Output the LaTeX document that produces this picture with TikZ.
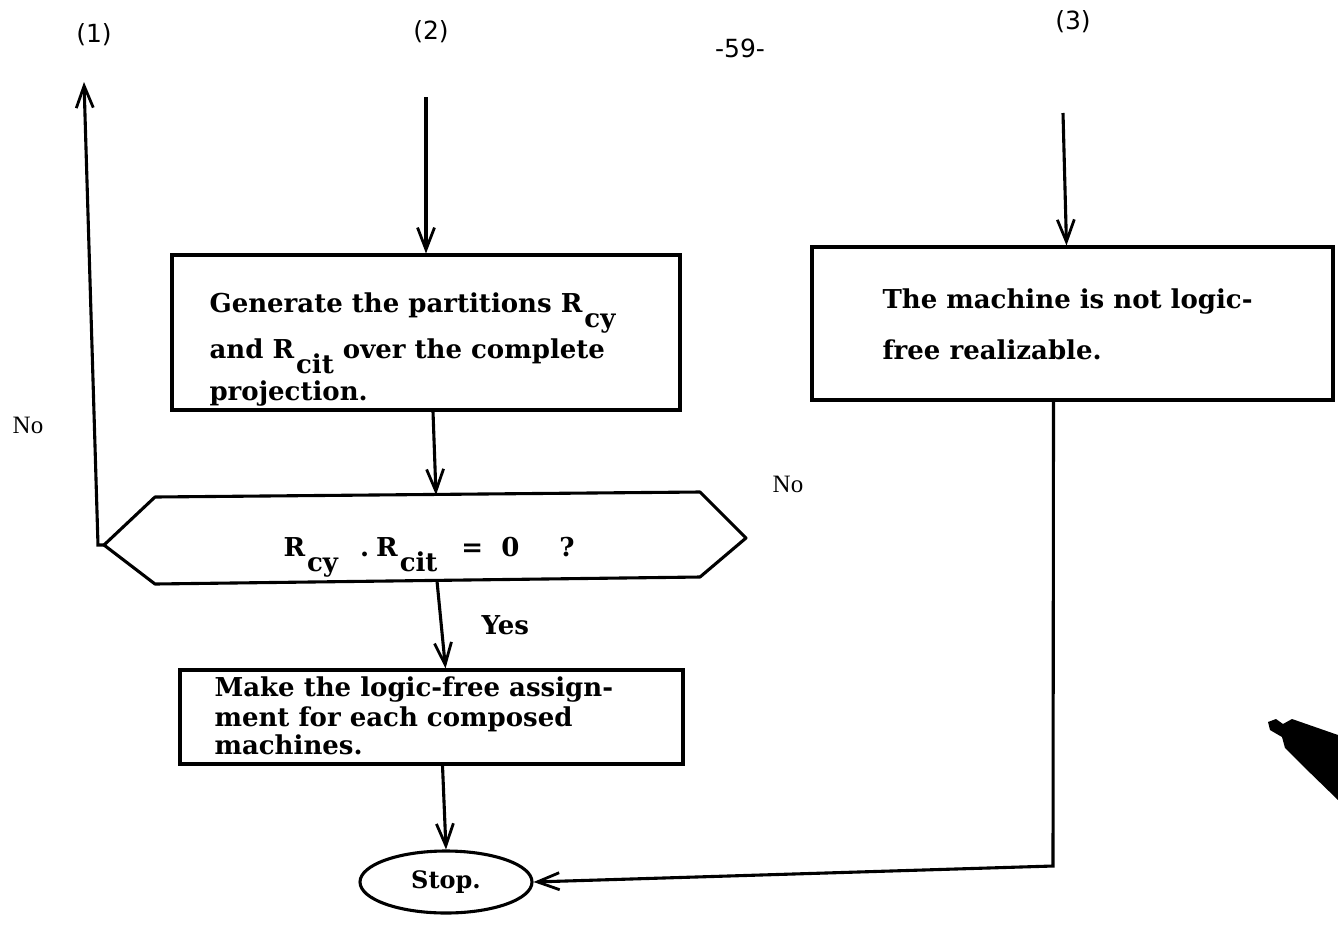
\documentclass[tikz,border=0pt]{standalone}
\usepackage{fontspec}
\setmainfont{DejaVu Serif}
\newfontfamily\labfont{DejaVu Sans}
\newfontfamily\nofont{Liberation Serif}
\usetikzlibrary{arrows.meta,shapes.geometric}
% subscripts are typed at full size, dropped below the line
\newcommand\lowsub[1]{\hspace{2pt}\raisebox{-15pt}{#1}}

\begin{document}
\begin{tikzpicture}[x=1pt,y=-1pt,line width=3.1pt,
  flow/.style={-{Straight Barb[length=22pt,width=17pt,line width=2.8pt]}},
  box/.style={draw,rectangle,inner sep=0pt},
  boxtext/.style={font=\bfseries\fontsize{26}{30}\selectfont,anchor=base west,inner sep=0pt},
  numlab/.style={font=\labfont\fontsize{25}{28}\selectfont,inner sep=0pt},
  nolab/.style={font=\nofont\fontsize{25}{28}\selectfont,inner sep=0pt}]

\useasboundingbox (0,0) rectangle (1338,930);

% column headings and page number
\node[numlab] (c1) at (94,35) {(1)};
\node[numlab] (c2) at (431,32) {(2)};
\node[numlab] (pg) at (740,48) {-59-};
\node[numlab] (c3) at (1073,22) {(3)};

% boxes
\node[box,minimum width=508pt,minimum height=155pt] (gen) at (426,332.5) {};
\node[boxtext] (gentext) at (208,312) {Generate the partitions R\lowsub{cy}};
\node[boxtext] (gentext2) at (208,358) {and R\lowsub{cit} over the complete};
\node[boxtext] (gentext3) at (208,400) {projection.};

\node[box,minimum width=503pt,minimum height=94pt] (make) at (431.5,717) {};
\node[boxtext] (maketext) at (213,696) {Make the logic-free assign-};
\node[boxtext] (maketext2) at (213,726) {ment for each composed};
\node[boxtext] (maketext3) at (213,754) {machines.};

\node[box,minimum width=521pt,minimum height=153pt] (notlf) at (1072.5,323.5) {};
\node[boxtext] (nottext) at (881,308) {The machine is not logic-};
\node[boxtext] (nottext2) at (881,359) {free realizable.};

% decision hexagon
\coordinate (hL) at (104,545);
\coordinate (hTL) at (155,497);
\coordinate (hTR) at (700,492);
\coordinate (hR) at (746,538);
\coordinate (hBR) at (700,577);
\coordinate (hBL) at (155,584);
\draw[line join=round] (hL) -- (hTL) -- (hTR) -- (hR) -- (hBR) -- (hBL) -- cycle;
\node[boxtext] (cond) at (282,556)
  {R\lowsub{cy}\hspace{22pt}.\hspace{7pt}R\lowsub{cit}\hspace{24pt}=\hspace{18pt}0\hspace{40pt}?};
\coordinate (hTop) at (436,495);
\coordinate (hBot) at (437,581);

% terminal
\node[draw,ellipse,minimum width=172pt,minimum height=62pt,inner sep=0pt,
      font=\bfseries\fontsize{24}{28}\selectfont] (stop) at (446,882) {Stop.};

% branch labels
\node[nolab] (no1) at (28,425) {No};
\node[nolab] (no2) at (788,484) {No};
\node[boxtext] (yes) at (480,634) {Yes};

% connectors
\coordinate (in2) at (426,97);
\coordinate (in3) at (1063,113);
\coordinate (out1) at (84,82);
\coordinate (bend) at (1053,866);

\draw[flow] (in2) -- (gen.north);
\draw[flow] ([xshift=7pt]gen.south) -- (hTop);
\draw[flow] (hBot) -- ([xshift=14pt]make.north);
\draw[flow] ([xshift=11pt]make.south) -- (stop.north);
\draw[flow] (hL) -- ++(-6,0) -- (out1);
\draw[flow] (in3) -- ([xshift=-6pt]notlf.north);
\draw[flow] ([xshift=-19pt]notlf.south) -- (bend) -- (stop.east);

% ink mark at the right margin
\fill (1268,722) -- (1276,719) -- (1283,724) -- (1292,719) -- (1338,735)
  -- (1338,800) -- (1302,765) -- (1285,748) -- (1282,737) -- (1270,730) -- cycle;
\end{tikzpicture}
\end{document}
